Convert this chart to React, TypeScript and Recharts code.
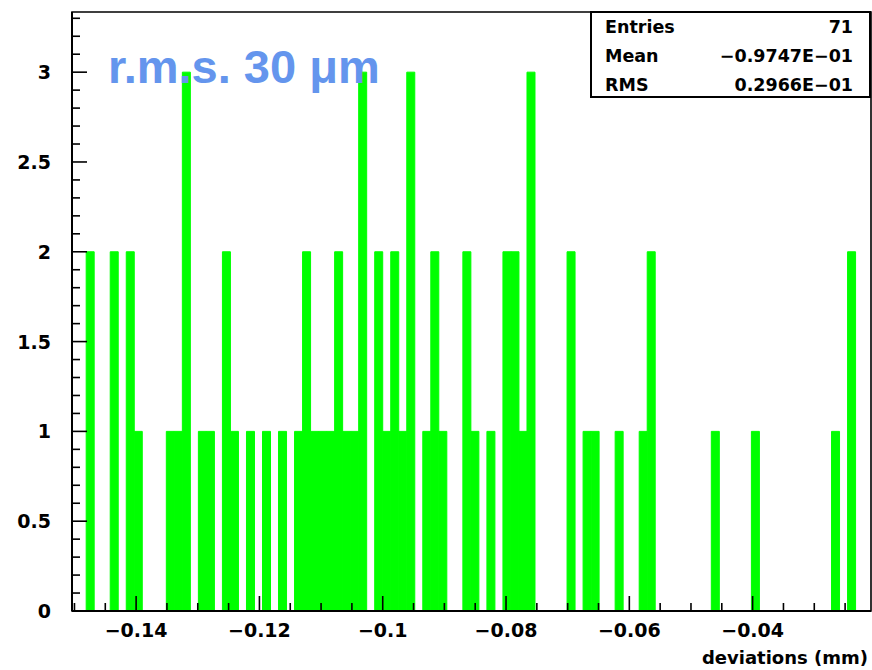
import React from "react";
import { Bar, ComposedChart, Label, ReferenceArea, XAxis, YAxis } from "recharts";

// histogram: 0.0013 mm bins starting at the first filled bin
const binLow = -0.1481;
const binWidth = 0.0013;
const binCounts = [
  2, 0, 0, 2, 0, 2, 1, 0, 0, 0,
  1, 1, 3, 0, 1, 1, 0, 2, 1, 0,
  1, 0, 1, 0, 1, 0, 1, 2, 1, 1,
  1, 2, 1, 1, 3, 0, 2, 1, 2, 1,
  3, 0, 1, 2, 1, 0, 0, 2, 1, 0,
  1, 0, 2, 2, 1, 3, 0, 0, 0, 0,
  2, 0, 1, 1, 0, 0, 1, 0, 0, 1,
  2, 0, 0, 0, 0, 0, 0, 0, 1, 0,
  0, 0, 0, 1, 0, 0, 0, 0, 0, 0,
  0, 0, 0, 1, 0, 2,
];

const xDomain = [-0.1504, -0.0208];
const yDomain = [0, 3.335];

const xMajorTicks = [-0.14, -0.12, -0.1, -0.08, -0.06, -0.04];
const xMajorLabels = ["\u22120.14", "\u22120.12", "\u22120.1", "\u22120.08", "\u22120.06", "\u22120.04"];
const yMajorTicks = [0, 0.5, 1, 1.5, 2, 2.5, 3];
const yMajorLabels = ["0", "0.5", "1", "1.5", "2", "2.5", "3"];

const statsRows = [
  ["Entries", "71"],
  ["Mean", "\u22120.9747E\u221201"],
  ["RMS", "0.2966E\u221201"],
];
const annotation = "r.m.s. 30 \u03bcm";
const xTitle = "deviations (mm)";

const data = binCounts.map((c, i) => ({ x: binLow + binWidth * (i + 0.5), count: c }));

const xMinorTicks: number[] = [];
for (let i = 0; i <= 25; i++) xMinorTicks.push(Math.round((-0.15 + i * 0.005) * 1e4) / 1e4);
const yMinorTicks: number[] = [];
for (let i = 0; i <= 33; i++) yMinorTicks.push(Math.round(i * 0.1 * 10) / 10);

const tickFont = { fontFamily: "DejaVu Sans", fontWeight: "bold", fontSize: 19, fill: "#000" };

const XTick = (props: any) => {
  const { x, y, payload } = props;
  const idx = xMajorTicks.findIndex((t) => Math.abs(t - payload.value) < 1e-7);
  const major = idx >= 0;
  return (
    <g>
      <line x1={x} y1={y} x2={x} y2={y - (major ? 15 : 8)} stroke="#000" strokeWidth={1.6} />
      {major && (
        <text x={x} y={y + 26} textAnchor="middle" {...tickFont}>
          {xMajorLabels[idx]}
        </text>
      )}
    </g>
  );
};

const YTick = (props: any) => {
  const { x, y, payload } = props;
  const idx = yMajorTicks.findIndex((t) => Math.abs(t - payload.value) < 1e-7);
  const major = idx >= 0;
  return (
    <g>
      <line x1={x} y1={y} x2={x + (major ? 15 : 8)} y2={y} stroke="#000" strokeWidth={1.6} />
      {major && (
        <text x={x - 21} y={y + 7} textAnchor="end" {...tickFont}>
          {yMajorLabels[idx]}
        </text>
      )}
    </g>
  );
};

const App = () => {
  return (
    <div style={{ position: "absolute", left: 0, top: 0, width: 872, height: 670, background: "#fff" }}>
      <ComposedChart
        width={872}
        height={670}
        data={data}
        margin={{ top: 12, right: 1, bottom: 0, left: 0 }}
        barCategoryGap={0}
        barGap={0}
      >
        <ReferenceArea
          x1={xDomain[0]}
          x2={xDomain[1]}
          y1={yDomain[0]}
          y2={yDomain[1]}
          fill="none"
          stroke="#000"
          strokeWidth={1.6}
          fillOpacity={0}
        />
        <Bar dataKey="count" fill="#00ff00" stroke="#00ff00" strokeWidth={1} isAnimationActive={false} />
        <XAxis
          type="number"
          dataKey="x"
          domain={xDomain}
          allowDataOverflow
          ticks={xMinorTicks}
          interval={0}
          tickSize={0}
          tickMargin={0}
          tickLine={false}
          tick={(p: any) => <XTick {...p} />}
          axisLine={{ stroke: "#000", strokeWidth: 2 }}
          height={59}
        >
          <Label
            content={(p: any) => (
              <text
                x={p.viewBox.x + p.viewBox.width - 3}
                y={p.viewBox.y + 53}
                textAnchor="end"
                fontFamily="DejaVu Sans"
                fontWeight="bold"
                fontSize={18}
                fill="#000"
              >
                {xTitle}
              </text>
            )}
          />
        </XAxis>
        <YAxis
          type="number"
          domain={yDomain}
          allowDataOverflow
          ticks={yMinorTicks}
          interval={0}
          tickSize={0}
          tickMargin={0}
          tickLine={false}
          tick={(p: any) => <YTick {...p} />}
          axisLine={{ stroke: "#000", strokeWidth: 2 }}
          width={72}
        />
      </ComposedChart>
      <svg
        width={872}
        height={670}
        style={{ position: "absolute", left: 0, top: 0, pointerEvents: "none" }}
      >
        <rect x={591} y={12} width={279} height={85} fill="#fff" stroke="#000" strokeWidth={2} />
        {statsRows.map((r, i) => (
          <g key={r[0]} fontFamily="DejaVu Sans" fontWeight="bold" fontSize={17.5} fill="#000">
            <text x={605} y={33 + i * 29}>{r[0]}</text>
            <text x={853} y={33 + i * 29} textAnchor="end">{r[1]}</text>
          </g>
        ))}
        <text
          x={108}
          y={83}
          fontFamily="Liberation Sans"
          fontWeight="bold"
          fontSize={47}
          fill="#6495ED"
        >
          {annotation}
        </text>
      </svg>
    </div>
  );
};

export default App;
